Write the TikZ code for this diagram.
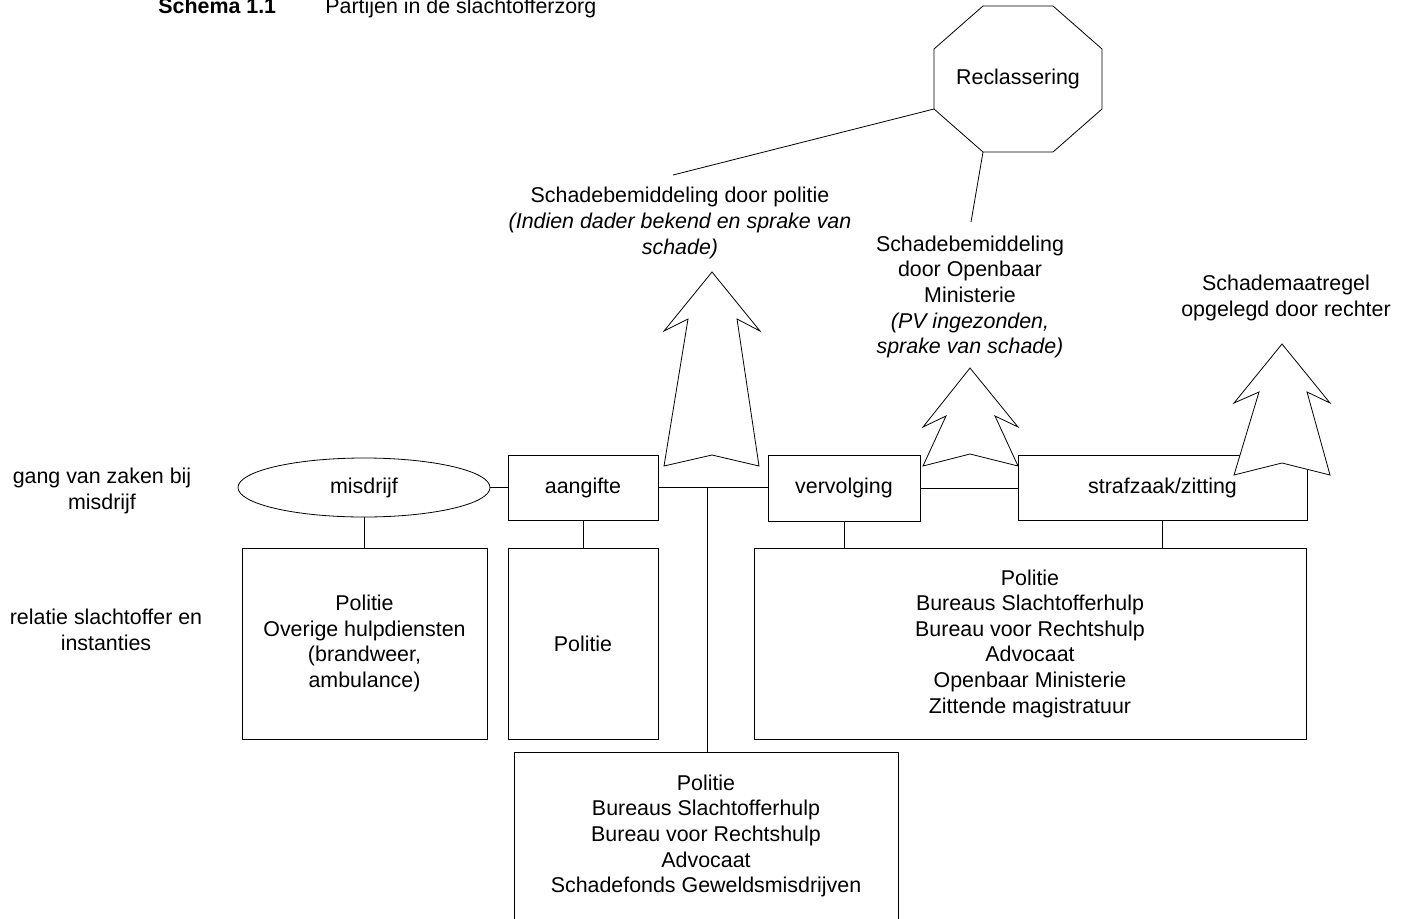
\documentclass[tikz,border=0pt]{standalone}
\usepackage{fontspec}
\setmainfont{Liberation Sans}
\usetikzlibrary{shapes.geometric}
\begin{document}
\begin{tikzpicture}[x=1pt,y=-1pt, line width=0.8pt,
  every node/.style={font=\fontsize{21.4}{25.6}\selectfont, inner sep=0pt},
  txt/.style={align=center},
  box/.style={draw, fill=white, rectangle, align=center},
  conn/.style={draw},
  bigarrow/.style={draw, fill=white, line join=miter}]
\useasboundingbox (0,0) rectangle (1404,918);

% title
\node[anchor=base west, font=\fontsize{21.4}{25.6}\selectfont\bfseries] (title1) at (158,13) {Schema 1.1};
\node[anchor=base west] (title2) at (325,13) {Partijen in de slachtofferzorg};

% row labels
\node[txt] (lblA) at (102,491) {gang van zaken bij\\misdrijf};
\node[txt] (lblB) at (106,630) {relatie slachtoffer en\\instanties};

% process row
\node[draw, fill=white, ellipse, minimum width=252pt, minimum height=59pt] (misdrijf) at (364,487.5) {misdrijf};
\node[box, minimum width=150pt, minimum height=65pt] (aangifte) at (583,487.5) {aangifte};
\node[box, minimum width=152pt, minimum height=66pt] (vervolging) at (844,488) {vervolging};
\node[box, minimum width=289pt, minimum height=65pt] (strafzaak) at (1162.5,487.5) {strafzaak/zitting};

% relation boxes
\node[box, minimum width=245pt, minimum height=191pt] (rel1) at (364.5,643.5) {Politie\\Overige hulpdiensten\\(brandweer,\\ambulance)};
\node[box, minimum width=150pt, minimum height=191pt] (rel2) at (583,643.5) {Politie};
\node[box, minimum width=552pt, minimum height=191pt] (rel3) at (1030,643.5) {Politie\\Bureaus Slachtofferhulp\\Bureau voor Rechtshulp\\Advocaat\\Openbaar Ministerie\\Zittende magistratuur};
\node[box, minimum width=384pt, minimum height=168pt] (rel4) at (706,836) {Politie\\Bureaus Slachtofferhulp\\Bureau voor Rechtshulp\\Advocaat\\Schadefonds Geweldsmisdrijven};

% connectors
\draw (misdrijf.east) -- (misdrijf.east -| aangifte.west);
\draw (aangifte.east) -- (aangifte.east -| vervolging.west);
\draw (vervolging.east) -- (vervolging.east -| strafzaak.west);
\coordinate (junc) at (707,488);
\draw (junc) -- (junc |- rel4.north);
\draw (misdrijf.south) -- (misdrijf.south |- rel1.north);
\draw (aangifte.south) -- (aangifte.south |- rel2.north);
\draw (vervolging.south) -- (vervolging.south |- rel3.north);
\draw (strafzaak.south) -- (strafzaak.south |- rel3.north);

% outcome texts
\node[txt] (schpol) at (680,223) {Schadebemiddeling door politie\\\itshape (Indien dader bekend en sprake van\\\itshape schade)};
\node[txt] (schom) at (970,297) {Schadebemiddeling\\door Openbaar\\Ministerie\\\itshape (PV ingezonden,\\\itshape sprake van schade)};
\node[txt] (schrecht) at (1286,298) {Schademaatregel\\opgelegd door rechter};

% octagon Reclassering
\coordinate (o1) at (983,6);
\coordinate (o2) at (1053,6);
\coordinate (o3) at (1102,49);
\coordinate (o4) at (1102,109);
\coordinate (o5) at (1053,152);
\coordinate (o6) at (983,152);
\coordinate (o7) at (934,109);
\coordinate (o8) at (934,49);
\draw[fill=white, line join=miter] (o1) -- (o2) -- (o3) -- (o4) -- (o5) -- (o6) -- (o7) -- (o8) -- cycle;
\node (reclass) at (1018,79) {Reclassering};
\coordinate (endpol) at (673,175);
\coordinate (endom) at (971,222);
\draw (o7) -- (endpol);
\draw (o6) -- (endom);

% block arrows
\path[bigarrow] (712,272) -- (760,331) -- (737,319) -- (759,466) -- (712,455) -- (664,466) -- (688,319) -- (664,331) -- cycle;
\path[bigarrow] (970,368) -- (1018,427) -- (995,416) -- (1018,466) -- (970,454) -- (923,466) -- (946,416) -- (923,427) -- cycle;
\path[bigarrow] (1282,344) -- (1330,403) -- (1307,392) -- (1330,475) -- (1282,463) -- (1234,475) -- (1259,392) -- (1234,403) -- cycle;
\end{tikzpicture}
\end{document}
